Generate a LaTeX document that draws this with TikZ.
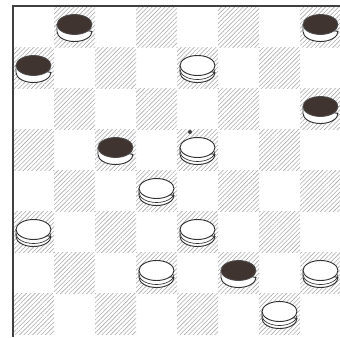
\documentclass[tikz,border=0pt]{standalone}
\usetikzlibrary{patterns.meta}
\begin{document}
\begin{tikzpicture}[x=0.75pt,y=0.75pt,yscale=-1,xscale=1,
  darksq/.style={pattern={Lines[angle=45,distance=2.3pt,line width=0.45pt]},pattern color=black!32},
  rim/.style={draw=black!80,line width=0.7pt,fill=white},
  whitetop/.style={draw=black!80,line width=0.7pt,fill=white},
  blacktop/.style={draw=black!70,line width=0.6pt,fill={rgb, 255:red, 64; green, 52; blue, 48}},
  frame/.style={draw=black!75,line width=1.1pt}]
\useasboundingbox (0,0) rectangle (340,337);
\clip (0,0) rectangle (340,337);
% hatched squares
\foreach \c in {0,...,7} \foreach \r in {0,...,7} {
  \pgfmathtruncatemacro\s{mod(\c+\r,2)}
  \ifnum\s=1 \fill[darksq] ({13+41*\c},{6+41*\r}) rectangle ++(41,41); \fi
}
% board edge
\draw[frame] (13,337) -- (13,6) -- (340,6);
% black men
\foreach \c/\r in {1/0,7/0,0/1,7/2,2/3,5/6} {
  \pgfmathsetmacro\X{33.5+41*\c} \pgfmathsetmacro\Y{28.5+41*\r}
  \filldraw[rim] (\X-17.5,\Y-4) -- (\X-17.5,\Y+3) arc[start angle=180,end angle=0,x radius=17.5,y radius=10] -- cycle;
  \filldraw[blacktop] (\X,\Y-4) ellipse [x radius=17.5,y radius=10];
}
% white men
\foreach \c/\r in {4/1,4/3,3/4,0/5,4/5,3/6,7/6,6/7} {
  \pgfmathsetmacro\X{33.5+41*\c} \pgfmathsetmacro\Y{28.5+41*\r}
  \filldraw[rim] (\X-17.5,\Y-4) -- (\X-17.5,\Y+3) arc[start angle=180,end angle=0,x radius=17.5,y radius=10] -- cycle;
  \draw[black!80,line width=0.5pt] (\X-17.5,\Y) arc[start angle=180,end angle=0,x radius=17.5,y radius=10];
  \filldraw[whitetop] (\X,\Y-4) ellipse [x radius=17.5,y radius=10];
}
\fill[black!75] (190,132) circle (2);
\end{tikzpicture}
\end{document}
